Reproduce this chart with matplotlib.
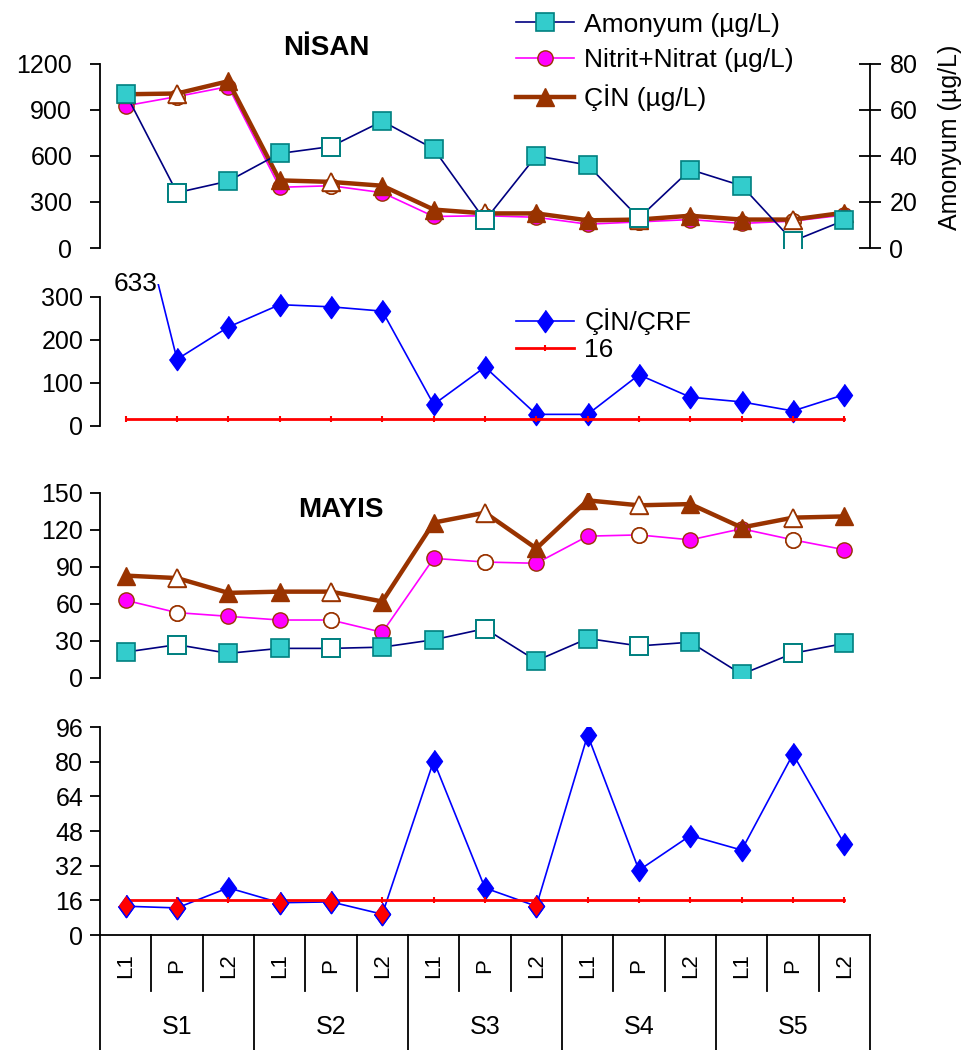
import matplotlib
matplotlib.use('Agg')
import matplotlib.pyplot as plt
import matplotlib.transforms as mtransforms

plt.rcParams['font.family'] = ['Liberation Sans', 'DejaVu Sans']

# sampling points (L1, P, L2 at each station S1..S5)
sub_labels = ['L1', 'P', 'L2', 'L1', 'P', 'L2', 'L1', 'P', 'L2', 'L1', 'P', 'L2', 'L1', 'P', 'L2']
stations = ['S1', 'S2', 'S3', 'S4', 'S5']

# NISAN (april)
nis_amonyum = [67, 24, 29, 41, 44, 55, 43, 12, 40, 36, 13, 34, 27, 3, 12]
nis_nitrat = [925, 985, 1050, 395, 405, 360, 205, 210, 200, 155, 170, 185, 160, 175, 215]
nis_cin = [1000, 1005, 1085, 440, 430, 405, 250, 225, 225, 180, 185, 210, 185, 185, 230]
nis_oran = [633, 155, 230, 282, 277, 267, 50, 137, 27, 27, 119, 67, 56, 35, 73]

# MAYIS (may)
may_amonyum = [21, 27, 20, 24, 24, 25, 31, 40, 14, 32, 26, 29, 3, 20, 28]
may_nitrat = [63, 53, 50, 47, 47, 37, 97, 94, 93, 115, 116, 112, 121, 112, 104]
may_cin = [83, 81, 69, 70, 70, 62, 126, 134, 105, 144, 140, 141, 122, 130, 131]
may_oran = [13.3, 12.5, 21.8, 14.9, 15.3, 9.6, 80.4, 21.7, 13.3, 92.3, 29.9, 45.9, 39.2, 83.5, 42.1]

esik = [16, 16, 16, 16, 16, 16, 16, 16, 16, 16, 16, 16, 16, 16, 16]

x = list(range(len(sub_labels)))
xp = [i for i in x if sub_labels[i] == 'P']

TEAL, TEAL_E, NAVY = '#33CCCC', '#008080', '#000080'
MAG, BROWN = '#FF00FF', '#993300'
BLUE, RED = '#0000FF', '#FF0000'
DIAMOND = [(0, 1), (0.72, 0), (0, -1), (-0.72, 0)]
FS = 18


def style(ax, top, ticks, pad=5):
    ax.set_xlim(-0.5, 14.5)
    ax.set_xticks([])
    for s in ['top', 'right', 'bottom']:
        ax.spines[s].set_visible(False)
    ax.spines['left'].set_bounds(0, top)
    ax.spines['left'].set_linewidth(1.3)
    ax.set_yticks(ticks)
    ax.tick_params(axis='y', labelsize=FS, length=7, width=1.3, direction='out', pad=pad)
    ax.patch.set_visible(False)


def nitrogen(ax, amon, nit, cin, amon_ax=None):
    if amon_ax is None:
        amon_ax = ax
    ln_n, = ax.plot(x, nit, color=MAG, lw=1.2, marker='o', ms=11, mfc=MAG, mec=BROWN, mew=1,
                    label='Nitrit+Nitrat (µg/L)', zorder=3)
    ax.plot(xp, [nit[i] for i in xp], ls='none', marker='o', ms=11, mfc='white', mec=BROWN, mew=1.2, zorder=3)
    ln_c, = ax.plot(x, cin, color=BROWN, lw=3.2, marker='^', ms=13, mfc=BROWN, mec=BROWN,
                    label='ÇİN (µg/L)', zorder=4)
    ax.plot(xp, [cin[i] for i in xp], ls='none', marker='^', ms=13, mfc='white', mec=BROWN, mew=1.2, zorder=4)
    ln_a, = amon_ax.plot(x, amon, color=NAVY, lw=1.2, marker='s', ms=13, mfc=TEAL, mec=TEAL_E, mew=1.2,
                         label='Amonyum (µg/L)', zorder=5)
    amon_ax.plot(xp, [amon[i] for i in xp], ls='none', marker='s', ms=13, mfc='white', mec=TEAL_E, mew=1.4,
                 zorder=5)
    return ln_a, ln_n, ln_c


fig = plt.figure(figsize=(9.69, 10.5), dpi=100)
L, W = 100 / 969, 770 / 969

# panel 1 - NISAN nitrogen
ax1 = fig.add_axes([L, 0.7638, W, 0.1757])
ax1r = ax1.twinx()
style(ax1, 1200, [0, 300, 600, 900, 1200], pad=13)
ax1.set_ylim(0, 1200)
ax1r.set_ylim(0, 80)
for s in ['top', 'left', 'bottom']:
    ax1r.spines[s].set_visible(False)
ax1r.spines['right'].set_linewidth(1.3)
ax1r.set_yticks([0, 20, 40, 60, 80])
ax1r.tick_params(axis='y', labelsize=FS, length=16, width=1.3, direction='inout', pad=6)
ax1r.set_ylabel('Amonyum (µg/L)', fontsize=FS)
ax1r.yaxis.set_label_coords(1.088, 0.60)
h = nitrogen(ax1, nis_amonyum, nis_nitrat, nis_cin, amon_ax=ax1r)
fig.text(326 / 969, 1 - 48 / 1050, 'NİSAN', fontsize=20, fontweight='bold', ha='center', va='center')
fig.legend(handles=list(h), loc='upper left', bbox_to_anchor=(505 / 969, 1 - 2 / 1050), frameon=False,
           fontsize=FS + 1, handlelength=2.2, handletextpad=0.4, labelspacing=0.45, borderaxespad=0)

# panel 2 - NISAN ratio
ax2 = fig.add_axes([L, 0.5943, W, 0.1352])
style(ax2, 300, [0, 100, 200, 300])
ax2.set_ylim(0, 330)
r1, = ax2.plot(x, nis_oran, color=BLUE, lw=1.2, marker=DIAMOND, ms=16, mfc=BLUE, mec=BLUE, label='ÇİN/ÇRF')
r2, = ax2.plot(x, esik, color=RED, lw=2, marker='|', ms=5, mew=1.5, label='16')
ax2.text(0.62, 330, '633', fontsize=19, ha='right', va='center')
ax2.legend(handles=[r1, r2], loc='upper left', bbox_to_anchor=(505 / 969, 1 - 298 / 1050),
           bbox_transform=fig.transFigure, frameon=False, fontsize=FS + 1, handlelength=2.2,
           handletextpad=0.4, labelspacing=0.1, borderaxespad=0)

# panel 3 - MAYIS nitrogen
ax3 = fig.add_axes([L, 0.3543, W, 0.1762])
style(ax3, 150, [0, 30, 60, 90, 120, 150])
ax3.set_ylim(0, 150)
nitrogen(ax3, may_amonyum, may_nitrat, may_cin)
fig.text(341 / 969, 1 - 510 / 1050, 'MAYIS', fontsize=20, fontweight='bold', ha='center', va='center')

# panel 4 - MAYIS ratio
ax4 = fig.add_axes([L, 0.1095, W, 0.1981])
style(ax4, 96, [0, 16, 32, 48, 64, 80, 96])
ax4.set_ylim(0, 96)
ax4.spines['bottom'].set_visible(True)
ax4.spines['bottom'].set_linewidth(1.3)
ax4.plot(x, may_oran, color=BLUE, lw=1.2, marker=DIAMOND, ms=16, mfc=BLUE, mec=BLUE)
ax4.plot(x, esik, color=RED, lw=2, marker='|', ms=5, mew=1.5)
low = [i for i in x if may_oran[i] < esik[i]]
ax4.plot(low, [may_oran[i] for i in low], ls='none', marker=DIAMOND, ms=16, mfc=RED, mec=BLUE, mew=1, zorder=5)

# category table below the x axis
trans = mtransforms.blended_transform_factory(ax4.transData, ax4.transAxes)
for k in range(len(sub_labels) + 1):
    b = k - 0.5
    y_end = -0.553 if k % 3 == 0 else -0.27
    ax4.plot([b, b], [0, y_end], color='black', lw=1.3, transform=trans, clip_on=False)
for i, lab in enumerate(sub_labels):
    ax4.text(i, -0.145, lab, transform=trans, rotation=90, ha='center', va='center', fontsize=16)
for j, st in enumerate(stations):
    ax4.text(3 * j + 1, -0.44, st, transform=trans, ha='center', va='center', fontsize=FS)

fig.savefig('out.png', dpi=100, facecolor='white')
plt.close(fig)
